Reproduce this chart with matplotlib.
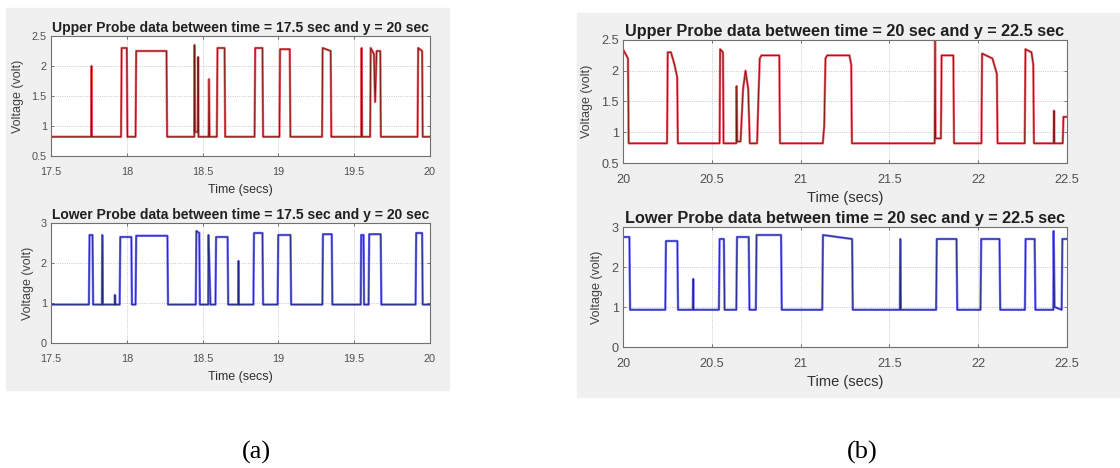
import numpy as np
import matplotlib
matplotlib.use("Agg")
import matplotlib.pyplot as plt
from matplotlib.patches import Rectangle
from matplotlib.ticker import FormatStrFormatter

plt.rcParams['font.family'] = ['Liberation Sans', 'DejaVu Sans']

# waveform vertices (time in s, voltage in V)
# panel (a), upper probe
ua_t = [17.5, 17.765, 17.767, 17.769,
        17.962, 17.966, 18.0, 18.004,
        18.058, 18.062, 18.262, 18.266,
        18.445, 18.447, 18.45, 18.468, 18.47, 18.473,
        18.54, 18.542, 18.546,
        18.594, 18.598, 18.645, 18.649,
        18.843, 18.847, 18.895, 18.899,
        19.007, 19.011, 19.075, 19.079,
        19.288, 19.292, 19.345, 19.349,
        19.547, 19.549, 19.552,
        19.605, 19.609, 19.63, 19.638, 19.648, 19.672, 19.676,
        19.918, 19.922, 19.948, 19.952, 20.0]
ua_v = [0.82, 0.82, 2.0, 0.82,
        0.82, 2.3, 2.3, 0.82,
        0.82, 2.25, 2.25, 0.82,
        0.82, 2.35, 0.9, 0.9, 2.15, 0.82,
        0.82, 1.78, 0.82,
        0.82, 2.3, 2.3, 0.82,
        0.82, 2.3, 2.3, 0.82,
        0.82, 2.28, 2.28, 0.82,
        0.82, 2.3, 2.25, 0.82,
        0.82, 2.3, 0.82,
        0.82, 2.3, 2.2, 1.4, 2.25, 2.25, 0.82,
        0.82, 2.3, 2.25, 0.82, 0.82]

# panel (a), lower probe
la_t = [17.5, 17.75, 17.754, 17.774, 17.778,
        17.836, 17.838, 17.842,
        17.92, 17.922, 17.925,
        17.953, 17.957, 18.03, 18.034,
        18.058, 18.062, 18.268, 18.272,
        18.455, 18.459, 18.478, 18.482,
        18.537, 18.539, 18.552,
        18.585, 18.589, 18.665, 18.669,
        18.735, 18.737, 18.739,
        18.835, 18.839, 18.895, 18.899,
        18.995, 18.999, 19.08, 19.084,
        19.29, 19.294, 19.352, 19.356,
        19.543, 19.546, 19.562, 19.565,
        19.595, 19.599, 19.675, 19.679,
        19.905, 19.909, 19.948, 19.952, 20.0]
la_v = [0.96, 0.96, 2.7, 2.7, 0.96,
        0.96, 2.7, 0.96,
        0.96, 1.2, 0.96,
        0.96, 2.65, 2.65, 0.96,
        0.96, 2.68, 2.68, 0.96,
        0.96, 2.8, 2.75, 0.96,
        0.96, 2.7, 0.96,
        0.96, 2.65, 2.65, 0.96,
        0.96, 2.05, 0.96,
        0.96, 2.75, 2.75, 0.96,
        0.96, 2.7, 2.7, 0.96,
        0.96, 2.72, 2.72, 0.96,
        0.96, 2.7, 2.7, 0.96,
        0.96, 2.72, 2.72, 0.96,
        0.96, 2.75, 2.75, 0.96, 0.96]

# panel (b), upper probe
ub_t = [20.0, 20.028, 20.032,
        20.248, 20.252, 20.27, 20.29, 20.305, 20.309,
        20.544, 20.547, 20.563, 20.566,
        20.638, 20.64, 20.643, 20.662, 20.676, 20.69, 20.705, 20.714,
        20.755, 20.762, 20.77, 20.78, 20.88, 20.884,
        21.125, 21.133, 21.14, 21.15, 21.275, 21.285, 21.289,
        21.755, 21.757, 21.76, 21.79, 21.794, 21.86, 21.864,
        22.018, 22.022, 22.08, 22.105, 22.109,
        22.262, 22.266, 22.3, 22.31, 22.314,
        22.425, 22.427, 22.429,
        22.476, 22.48, 22.5]
ub_v = [2.35, 2.2, 0.82,
        0.82, 2.3, 2.3, 2.1, 1.9, 0.82,
        0.82, 2.35, 2.3, 0.82,
        0.82, 1.75, 0.85, 0.85, 1.7, 2.0, 1.7, 0.82,
        0.82, 1.5, 2.2, 2.25, 2.25, 0.82,
        0.82, 1.1, 2.2, 2.25, 2.25, 2.1, 0.82,
        0.82, 2.5, 0.9, 0.9, 2.25, 2.25, 0.82,
        0.82, 2.28, 2.2, 1.95, 0.82,
        0.82, 2.35, 2.3, 2.1, 0.82,
        0.82, 1.35, 0.82,
        0.82, 1.25, 1.25]

# panel (b), lower probe
lb_t = [20.0, 20.036, 20.04,
        20.238, 20.242, 20.306, 20.31,
        20.393, 20.395, 20.397,
        20.54, 20.544, 20.568, 20.572,
        20.638, 20.642, 20.708, 20.712,
        20.748, 20.752, 20.89, 20.894,
        21.122, 21.126, 21.29, 21.294,
        21.559, 21.561, 21.564,
        21.763, 21.767, 21.878, 21.882,
        22.013, 22.017, 22.12, 22.124,
        22.263, 22.267, 22.318, 22.322,
        22.423, 22.425, 22.43, 22.47, 22.474, 22.5]
lb_v = [2.75, 2.75, 0.93,
        0.93, 2.65, 2.65, 0.93,
        0.93, 1.7, 0.93,
        0.93, 2.7, 2.7, 0.93,
        0.93, 2.75, 2.75, 0.93,
        0.93, 2.8, 2.8, 0.93,
        0.93, 2.8, 2.7, 0.93,
        0.93, 2.7, 0.93,
        0.93, 2.7, 2.7, 0.93,
        0.93, 2.7, 2.7, 0.93,
        0.93, 2.7, 2.7, 0.93,
        0.93, 2.9, 1.0, 0.93, 2.7, 2.7]

W, H = 1120, 468
fig = plt.figure(figsize=(W / 100, H / 100), dpi=100)

# grey MATLAB-style figure panels, behind the axes
for x0, y0, x1, y1 in [(6, 8, 449, 390), (577, 13, 1120, 397)]:
    fig.patches.append(Rectangle((x0 / W, 1 - y1 / H), (x1 - x0) / W, (y1 - y0) / H,
                                 transform=fig.transFigure, color='#f0f0f0',
                                 zorder=-5))


def make_axes(px, t, v, col, core, xlim, ylim, yticks, title, sc, ylab_x):
    x0, y0, x1, y1 = px
    ax = fig.add_axes([x0 / W, 1 - y1 / H, (x1 - x0) / W, (y1 - y0) / H])
    ax.plot(t, v, color=col, lw=1.7, alpha=0.7)
    ax.plot(t, v, color=core, lw=0.6, alpha=0.75)
    ax.set_xlim(xlim)
    ax.set_ylim(ylim)
    ax.set_xticks(np.arange(xlim[0], xlim[1] + 0.01, 0.5))
    ax.set_yticks(yticks)
    ax.xaxis.set_major_formatter(FormatStrFormatter('%g'))
    ax.yaxis.set_major_formatter(FormatStrFormatter('%g'))
    ax.tick_params(direction='in', length=2.5, width=0.6, labelsize=7.8 * sc,
                   labelcolor='#505050', color='#606060', top=True, right=True, pad=3)
    ax.tick_params(axis='x', pad=8)
    ax.grid(True, ls=':', color='#b8b8b8', lw=0.6)
    for s in ax.spines.values():
        s.set_color('#707070')
        s.set_linewidth(0.8)
    ax.set_title(title, fontsize=10 * sc, fontweight='bold', color='#202020', pad=3)
    ax.set_xlabel('Time (secs)', fontsize=9 * sc, color='#303030')
    ax.set_ylabel('Voltage (volt)', fontsize=9, color='#404040')
    ax.xaxis.set_label_coords(0.5, -0.23)
    ax.yaxis.set_label_coords(ylab_x, 0.5)
    return ax


make_axes((51, 36, 430, 156), ua_t, ua_v, '#e8101a', '#4a0000', (17.5, 20), (0.5, 2.5),
          [0.5, 1, 1.5, 2, 2.5], 'Upper Probe data between time = 17.5 sec and y = 20 sec',
          1.0, -0.071)
make_axes((51, 223, 430, 343), la_t, la_v, '#2a2aff', '#10104a', (17.5, 20), (0, 3),
          [0, 1, 2, 3], 'Lower Probe data between time = 17.5 sec and y = 20 sec',
          1.0, -0.045)
make_axes((623, 40, 1067, 163), ub_t, ub_v, '#e8101a', '#4a0000', (20, 22.5), (0.5, 2.5),
          [0.5, 1, 1.5, 2, 2.5], 'Upper Probe data between time = 20 sec and y = 22.5 sec',
          1.17, -0.068)
make_axes((623, 227, 1067, 347), lb_t, lb_v, '#2a2aff', '#10104a', (20, 22.5), (0, 3),
          [0, 1, 2, 3], 'Lower Probe data between time = 20 sec and y = 22.5 sec',
          1.17, -0.045)

fig.text(256 / W, 1 - 452 / H, '(a)', family=['Liberation Serif', 'DejaVu Serif'],
         fontsize=19, ha='center', va='center')
fig.text(862 / W, 1 - 452 / H, '(b)', family=['Liberation Serif', 'DejaVu Serif'],
         fontsize=19, ha='center', va='center')

fig.savefig('out.png', dpi=100)
